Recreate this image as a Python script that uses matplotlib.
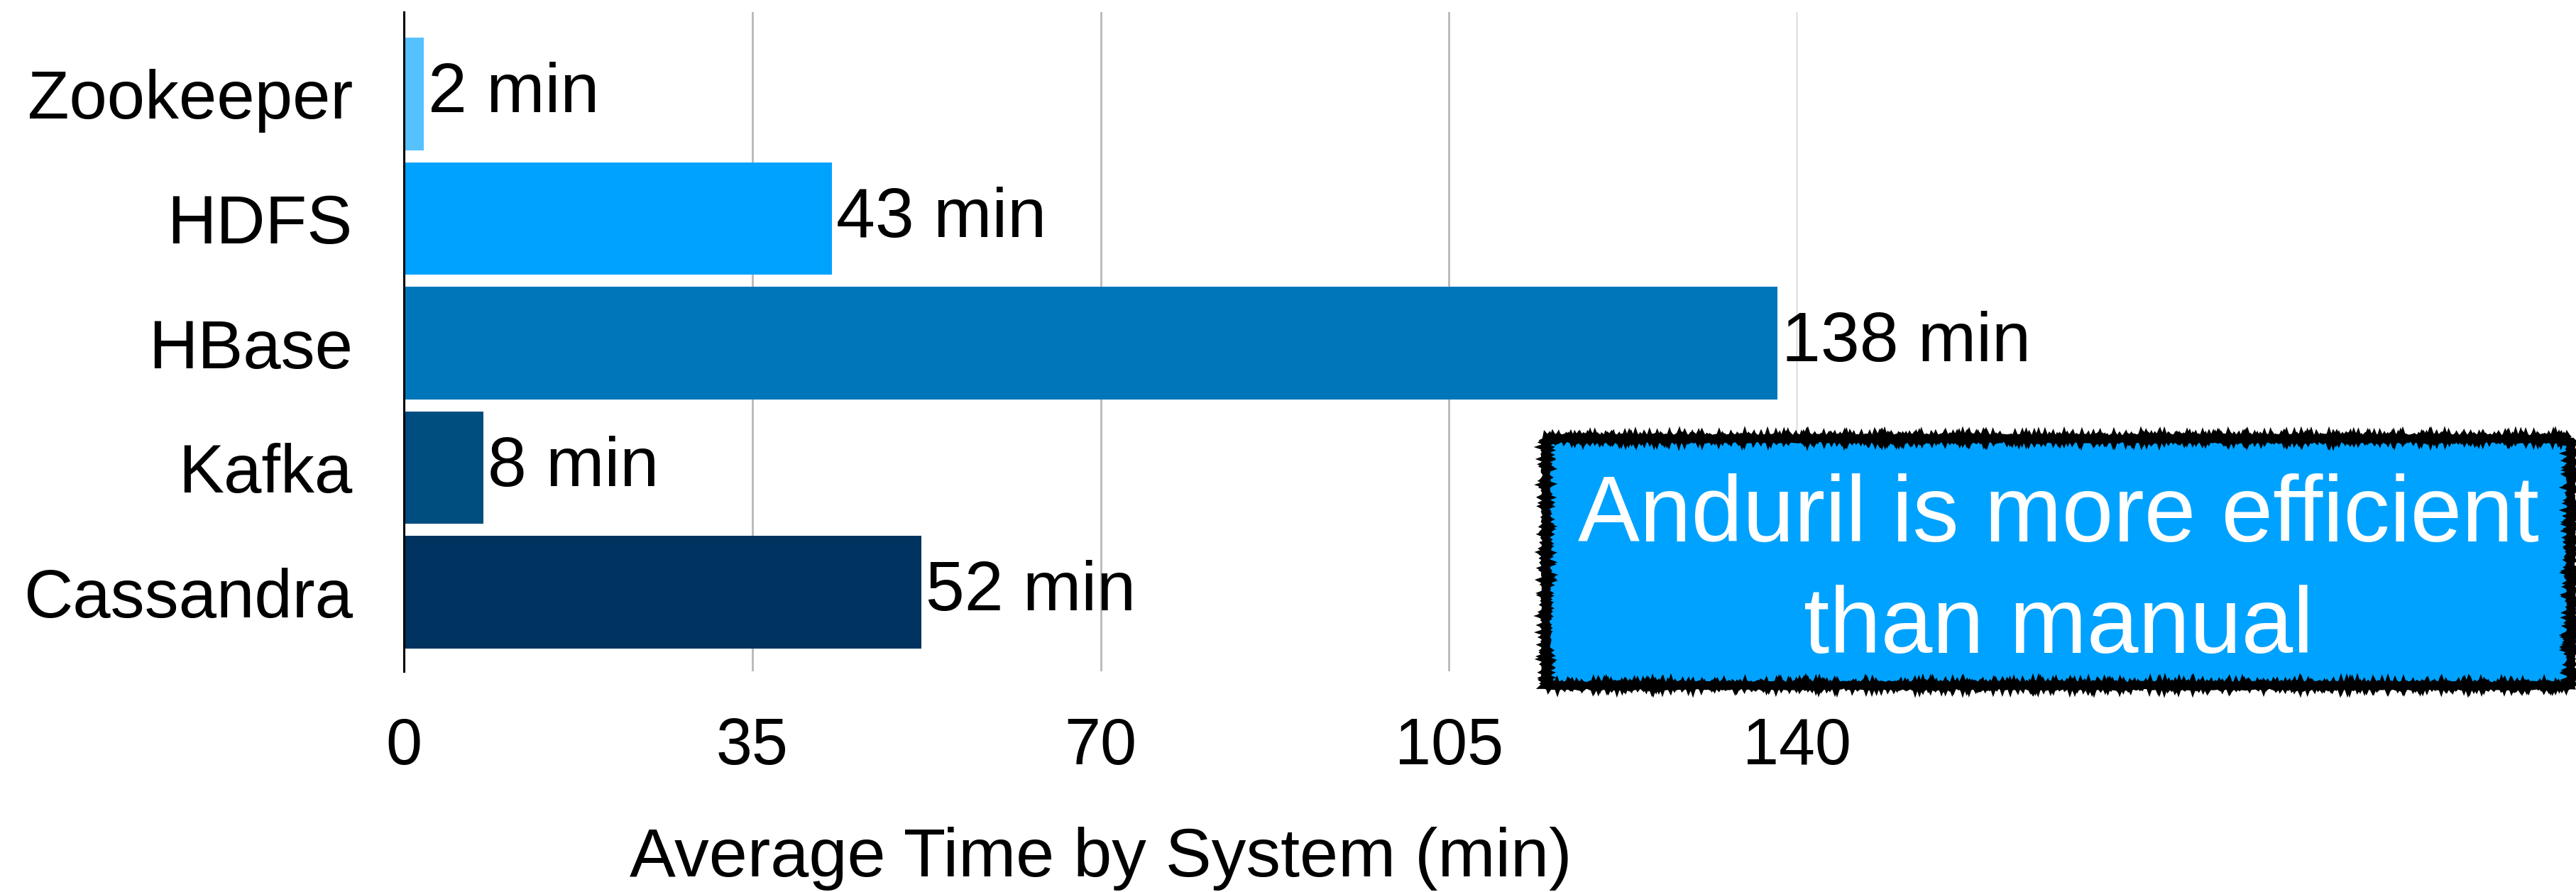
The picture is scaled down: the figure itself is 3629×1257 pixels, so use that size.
import matplotlib.pyplot as plt
from matplotlib.patches import Rectangle

systems = ["Zookeeper", "HDFS", "HBase", "Kafka", "Cassandra"]
minutes = [2, 43, 138, 8, 52]
bar_colors = ["#56C1FF", "#00A2FF", "#0076BA", "#004D80", "#00335F"]
xticks = [0, 35, 70, 105, 140]

plt.rcParams['font.family'] = ['Liberation Sans', 'DejaVu Sans']

W, H = 3630, 1257
fig = plt.figure(figsize=(W / 100, H / 100), dpi=100)
ax = fig.add_axes([569 / W, 1 - 946 / H, (2532 - 569) / W, (946 - 17) / H])

ypos = list(range(len(systems)))
ax.barh(ypos, minutes, height=0.905, color=bar_colors, zorder=2)
for y, v in zip(ypos, minutes):
    ax.annotate(f"{v} min", (v, y), xytext=(6, 0), textcoords="offset pixels",
                ha="left", va="center", fontsize=71, zorder=3)

ax.set_xlim(0, 140)
ax.set_ylim(4.635, -0.658)
ax.set_yticks(ypos)
ax.set_yticklabels(systems, fontsize=69)
ax.set_xticks(xticks)
ax.set_xticklabels([str(t) for t in xticks], fontsize=66)
ax.tick_params(axis="both", length=0)
ax.tick_params(axis="y", pad=52)
ax.tick_params(axis="x", pad=46)

ax.grid(axis="x", color="#b8b8b8", linewidth=2, zorder=0)
ax.set_axisbelow(True)
for s in ["top", "right", "bottom"]:
    ax.spines[s].set_visible(False)
ax.spines["left"].set_linewidth(2.2)
ax.spines["left"].set_zorder(4)

ax.set_xlabel("Average Time by System (min)", fontsize=70, labelpad=50)

# callout box with a rough hand-drawn border
bx0, bx1, by0, by1 = 2178, 3622, 618, 966
fill = Rectangle((bx0 / W, 1 - by1 / H), (bx1 - bx0) / W, (by1 - by0) / H,
                 transform=fig.transFigure, facecolor="#00A2FF", edgecolor="none", zorder=5)
fig.patches.append(fill)
edge = Rectangle((bx0 / W, 1 - by1 / H), (bx1 - bx0) / W, (by1 - by0) / H,
                 transform=fig.transFigure, facecolor="none", edgecolor="black",
                 linewidth=7, zorder=6)
edge.set_sketch_params(scale=1.6, length=1.5, randomness=1.5)
fig.patches.append(edge)

fig.text(2900 / W, 1 - 763 / H, "Anduril is more efficient", color="white",
         fontsize=94, ha="center", va="baseline", zorder=7)
fig.text(2900 / W, 1 - 920 / H, "than manual", color="white",
         fontsize=94, ha="center", va="baseline", zorder=7)

fig.savefig("out.png", dpi=100)
